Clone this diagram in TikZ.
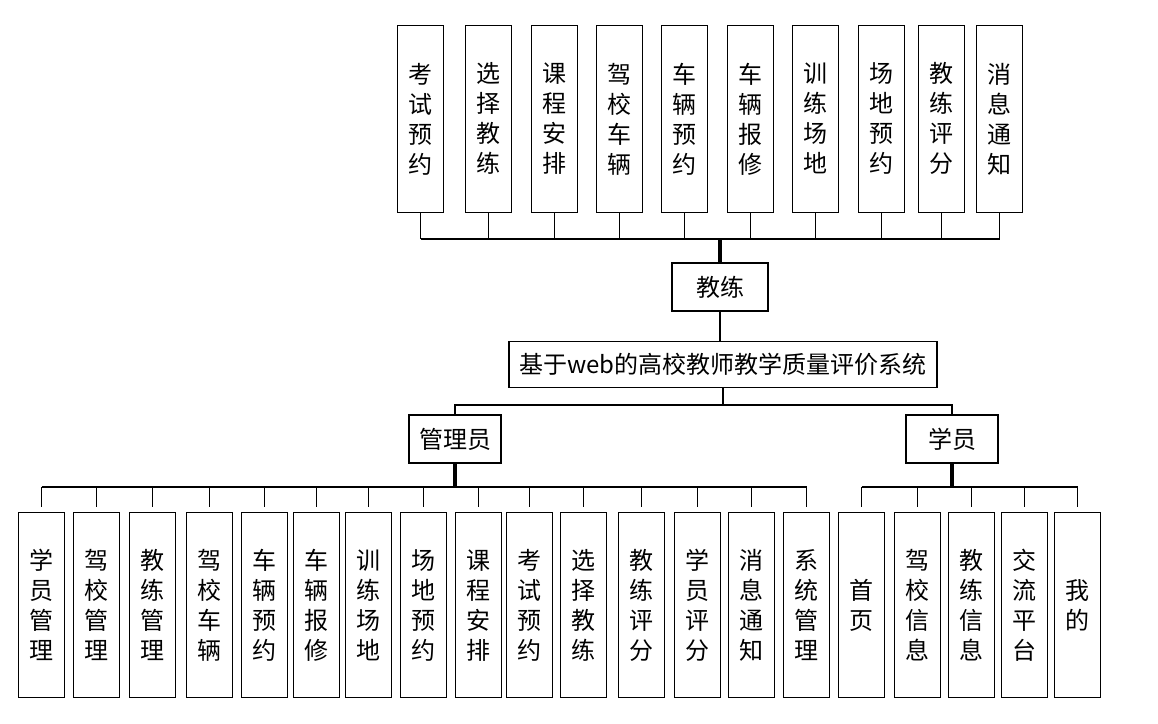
\documentclass[tikz,border=0pt]{standalone}
\usepackage{fontspec}
\setmainfont{Noto Sans CJK SC}
\usetikzlibrary{positioning, calc}

\begin{document}
\begin{tikzpicture}[x=0.75pt, y=-0.75pt,
        block/.style={rectangle, draw, line width=0.8pt, inner sep=0pt, align=center, font=\fontsize{18}{22.5}\selectfont},
        vbox/.style={block, anchor=north west, minimum width=34.5pt},
        line/.style={draw, line width=1.4pt}]
    \useasboundingbox (0,0) rectangle (1158,724);

    % teacher side
    \foreach \x/\t [count=\i] in {397/考\\试\\预\\约, 465/选\\择\\教\\练, 531/课\\程\\安\\排,
            596/驾\\校\\车\\辆, 661/车\\辆\\预\\约, 727/车\\辆\\报\\修, 792/训\\练\\场\\地,
            858/场\\地\\预\\约, 918/教\\练\\评\\分, 976/消\\息\\通\\知}
        \node [vbox, minimum height=140pt] (t\i) at (\x,25) {\t};

    \node [block, minimum width=72pt, minimum height=36pt] (coach) at (720,287) {教练};
    \node [block, minimum width=321pt, minimum height=35pt] (sys) at (723,364.5) {基于web的高校教师教学质量评价系统};
    \node [block, minimum width=69pt, minimum height=36pt] (admin) at (455,439) {管理员};
    \node [block, minimum width=69pt, minimum height=36pt] (stu) at (952,439) {学员};

    % admin side
    \foreach \x/\t [count=\i] in {18/学\\员\\管\\理, 73/驾\\校\\管\\理, 129/教\\练\\管\\理,
            186/驾\\校\\车\\辆, 241/车\\辆\\预\\约, 293/车\\辆\\报\\修, 345/训\\练\\场\\地,
            400/场\\地\\预\\约, 455/课\\程\\安\\排, 506/考\\试\\预\\约, 560/选\\择\\教\\练,
            618/教\\练\\评\\分, 674/学\\员\\评\\分, 728/消\\息\\通\\知, 783/系\\统\\管\\理}
        \node [vbox, minimum height=139pt] (a\i) at (\x,512) {\t};

    % student side
    \foreach \x/\t [count=\i] in {838/首\\页, 894/驾\\校\\信\\息, 948/教\\练\\信\\息,
            1001/交\\流\\平\\台, 1054/我\\的}
        \node [vbox, minimum height=139pt] (s\i) at (\x,512) {\t};

    \coordinate (tbus) at (720,239);
    \coordinate (sbus) at (723,405);
    \coordinate (abus) at (455,487);
    \coordinate (ubus) at (952,487);

    \foreach \i in {1,...,10}
        \path [line] (t\i.south) -- (t\i.south |- tbus);
    \path [line] (t1.south |- tbus) -- (t10.south |- tbus);
    \path [line, line width=3.5pt] (tbus) -- (coach.north);
    \path [line] (coach.south) -- (coach.south |- sys.north);

    \path [line] (sys.south) -- (sbus);
    \path [line] (admin.north) |- (sbus) -| (stu.north);

    \path [line, line width=2.5pt] (admin.south) -- (abus);
    \path [line] (a1.north |- abus) -- (a15.north |- abus);
    \foreach \i in {1,...,15}
        \path [line, shorten >=3.5pt] (a\i.north |- abus) -- (a\i.north);

    \path [line, line width=2.5pt] (stu.south) -- (ubus);
    \path [line] (s1.north |- ubus) -- (s5.north |- ubus);
    \foreach \i in {1,...,5}
        \path [line, shorten >=3.5pt] (s\i.north |- ubus) -- (s\i.north);

\end{tikzpicture}
\end{document}
